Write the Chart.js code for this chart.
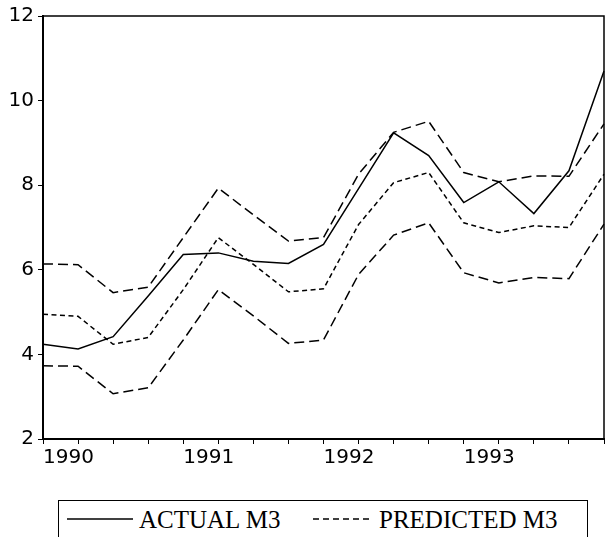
<!DOCTYPE html>
<html>
<head>
<meta charset="utf-8">
<script src="https://cdn.jsdelivr.net/npm/chart.js@4/dist/chart.umd.min.js"></script>
<style>
    body { margin: 0; background: #fff; }
    #wrap { position: relative; width: 606px; height: 537px; overflow: hidden; }
    #plot { position: absolute; left: 0; top: 0; width: 606px; height: 480px; }
    #legend {
        position: absolute; left: 58px; top: 500px; width: 530px; height: 40px;
        border: 1.5px solid #000; box-sizing: border-box;
        font-family: "Liberation Serif", "Times New Roman", serif; font-size: 25px; color: #000;
    }
    #legend .item { position: absolute; top: 5px; line-height: 28px; white-space: nowrap; }
    #legend svg { position: absolute; top: 16px; }
</style>
</head>
<body>
<div id="wrap">
    <div id="plot"><canvas id="m3Chart"></canvas></div>
    <div id="legend">
        <svg style="left:8px" width="66" height="4"><line x1="0" y1="2" x2="66" y2="2" stroke="#000" stroke-width="1.5"/></svg>
        <span class="item" style="left:80px">ACTUAL M3</span>
        <svg style="left:254px" width="58" height="4"><line x1="0" y1="2" x2="58" y2="2" stroke="#000" stroke-width="1.5" stroke-dasharray="6 4"/></svg>
        <span class="item" style="left:320px">PREDICTED M3</span>
    </div>
</div>
<script>
// ===== DATA (quarterly, 1990Q1 - 1994Q1) =====
const quarters = ['1990Q1', '1990Q2', '1990Q3', '1990Q4',
                  '1991Q1', '1991Q2', '1991Q3', '1991Q4',
                  '1992Q1', '1992Q2', '1992Q3', '1992Q4',
                  '1993Q1', '1993Q2', '1993Q3', '1993Q4',
                  '1994Q1'];
const actualM3 = [4.24, 4.13, 4.42, 5.38, 6.36, 6.40, 6.20, 6.15, 6.60, 7.92, 9.24, 8.70, 7.59, 8.08, 7.33, 8.34, 10.70];
const predictedM3 = [4.95, 4.90, 4.24, 4.40, 5.53, 6.76, 6.13, 5.48, 5.55, 7.07, 8.06, 8.30, 7.11, 6.88, 7.04, 7.00, 8.26];
const upperBand = [6.14, 6.12, 5.46, 5.59, 6.76, 7.93, 7.30, 6.68, 6.76, 8.26, 9.25, 9.51, 8.30, 8.08, 8.22, 8.21, 9.45];
const lowerBand = [3.73, 3.72, 3.07, 3.21, 4.34, 5.53, 4.91, 4.26, 4.34, 5.89, 6.82, 7.11, 5.93, 5.69, 5.82, 5.79, 7.08];
const yTicks = [2, 4, 6, 8, 10, 12];

const tickFont = { family: '"DejaVu Sans", Arial, sans-serif', size: 20 };

// box around the plot area (top/right edges)
const frame = {
    id: 'frame',
    afterDraw(chart) {
        const { ctx, chartArea: a } = chart;
        ctx.save();
        ctx.strokeStyle = '#000';
        ctx.lineWidth = 1.5;
        ctx.strokeRect(a.left, a.top, a.right - a.left, a.bottom - a.top);
        ctx.restore();
    }
};

function lineSet(label, data, dash) {
    return {
        label: label,
        data: data,
        borderColor: '#000',
        borderWidth: 1.5,
        borderDash: dash,
        pointRadius: 0,
        tension: 0,
        fill: false
    };
}

new Chart(document.getElementById('m3Chart'), {
    type: 'line',
    data: {
        labels: quarters,
        datasets: [
            lineSet('ACTUAL M3', actualM3, []),
            lineSet('PREDICTED M3', predictedM3, [5, 3.5]),
            lineSet('Upper', upperBand, [10, 5]),
            lineSet('Lower', lowerBand, [10, 5])
        ]
    },
    options: {
        responsive: true,
        maintainAspectRatio: false,
        animation: false,
        layout: { padding: { top: 16, right: 2, left: 0, bottom: 0 } },
        plugins: {
            legend: { display: false },
            tooltip: { enabled: false }
        },
        scales: {
            x: {
                offset: false,
                border: { color: '#000', width: 2 },
                grid: { drawOnChartArea: false, drawTicks: true, tickLength: 5, color: '#000' },
                ticks: {
                    autoSkip: false,
                    maxRotation: 0,
                    align: 'start',
                    padding: 2,
                    color: '#000',
                    font: tickFont,
                    callback: (v, i) => (i % 4 === 0 && i < quarters.length - 1) ? quarters[i].slice(0, 4) : ''
                },
                afterFit: (scale) => { scale.height = 41; }
            },
            y: {
                min: yTicks[0],
                max: yTicks[yTicks.length - 1],
                border: { color: '#000', width: 2 },
                grid: { drawOnChartArea: false, drawTicks: true, tickLength: 5, color: '#000' },
                afterBuildTicks: (scale) => { scale.ticks = yTicks.map(v => ({ value: v })); },
                ticks: { padding: 4, color: '#000', font: tickFont },
                afterFit: (scale) => { scale.width = 43; }
            }
        }
    },
    plugins: [frame]
});
</script>
</body>
</html>
